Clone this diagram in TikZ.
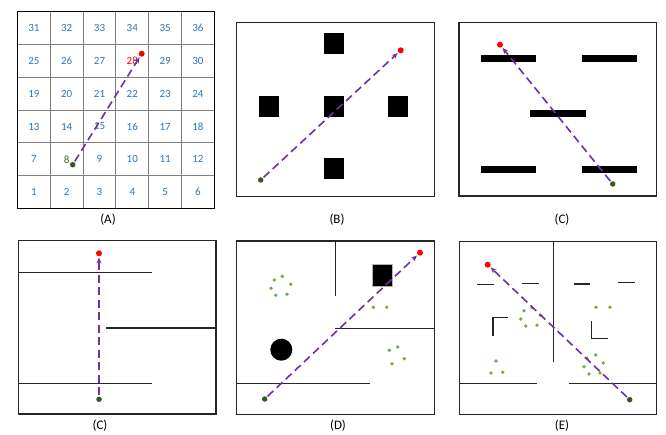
\documentclass[tikz,border=0pt]{standalone}
\usepackage{fontspec}
\setsansfont{Carlito}
\usetikzlibrary{arrows.meta, positioning}
\definecolor{cblue}{HTML}{2E75B6}
\definecolor{cpurple}{HTML}{7030A0}
\definecolor{cred}{HTML}{FF0000}
\definecolor{cdark}{HTML}{375623}
\definecolor{cleaf}{HTML}{70AD47}
\definecolor{cline}{HTML}{262626}
\definecolor{cgrid}{HTML}{808080}
\tikzset{
  every picture/.style={font=\sffamily, line width=1.2pt},
  frame/.style={draw=cline, line width=1.3pt},
  wall/.style={draw=cline, line width=1.2pt},
  block/.style={fill=black, draw=none},
  start/.style={circle, fill=cdark, inner sep=0pt, minimum size=5.5pt},
  goal/.style={circle, fill=cred, inner sep=0pt, minimum size=6pt},
  route/.style={-{Stealth[length=6pt, width=5pt]}, draw=cpurple, line width=1.6pt,
                dash pattern=on 8pt off 4.5pt, shorten >=0.5pt, shorten <=0.5pt},
  seed/.style={circle, fill=cleaf, inner sep=0pt, minimum size=3.8pt},
  caption/.style={font=\sffamily\fontsize{13}{15}\selectfont},
  cellnum/.style={font=\sffamily\fontsize{11}{13}\selectfont, text=cblue},
}

\begin{document}
\begin{tikzpicture}[x=1pt, y=-1pt]
  \useasboundingbox (0,0) rectangle (666,435);
  % (A) numbered grid
  \foreach \i in {1,...,5} {
    \draw[cgrid, line width=1.1pt] ({17.5+32.8*\i},11.7) -- ({17.5+32.8*\i},208.5);
    \draw[cgrid, line width=1.1pt] (17.5,{11.7+32.8*\i}) -- (214.3,{11.7+32.8*\i});
  }
  \draw[frame, draw=black] (17.5,11.7) rectangle (214.3,208.5);
  \foreach \r in {0,...,5} {
    \foreach \c in {0,...,5} {
      \pgfmathtruncatemacro{\n}{\r*6+\c+1}
      \def\ncol{cblue}
      \ifnum\n=28 \def\ncol{cred}\fi
      \ifnum\n=8 \def\ncol{cdark!80!cleaf}\fi
      \node[cellnum, text=\ncol] (n\n) at ({17.5+32.8*(\c+0.5)},{208.5-32.8*(\r+0.5)}) {\n};
    }
  }
  \node[start] (a0) at (72.7,164.7) {};
  \node[goal] (a1) at (141.7,53.7) {};
  \draw[route] (a0) -- (a1);
  \node[caption] (capA) at (108,220) {(A)};
  % (B) square blocks
  \draw[frame] (236.3,22.7) rectangle (434.3,196.7);
  \foreach \x/\y in {323.7/33.3, 259/96, 323.7/96, 387.7/96, 323.7/158.3}
    \fill[block] (\x,\y) rectangle ++(20,21);
  \node[start] (b0) at (260.7,180) {};
  \node[goal] (b1) at (400.7,50.3) {};
  \draw[route] (b0) -- (b1);
  \node[caption] (capB) at (337,220) {(B)};
  % (C) bars
  \draw[frame] (459,22.7) rectangle (656.3,196);
  \foreach \x/\y in {481/55, 582/55, 530.3/110, 481/165.7, 582/165.7}
    \fill[block] (\x,\y) rectangle ++(55.3,7.2);
  \node[start] (c0) at (612.7,184) {};
  \node[goal] (c1) at (500,44.7) {};
  \draw[route] (c0) -- (c1);
  \node[caption] (capC) at (562,220) {(C)};
  % (C) corridors
  \draw[frame] (18.3,240.7) rectangle (216,414);
  \draw[wall] (18.3,272.7) -- (152,272.7);
  \draw[wall] (106,328) -- (216,328);
  \draw[wall] (18.3,383.3) -- (152,383.3);
  \node[start] (d0) at (99,399.3) {};
  \node[goal] (d1) at (99,253.3) {};
  \draw[route] (d0) -- (d1);
  \node[caption] (capC2) at (100,426) {(C)};
  % (D) rooms with obstacles
  \draw[frame] (236.3,241) rectangle (434.3,414.3);
  \draw[wall] (335.3,241) -- (335.3,295.7);
  \draw[wall] (335.3,328.7) -- (434.3,328.7);
  \draw[wall] (236.3,383.7) -- (369.7,383.7);
  \filldraw[fill=black, draw=cgrid!60, line width=0.6pt] (372,264.7) rectangle (392.3,286);
  \fill[black] (281.3,349.7) circle (11);
  \foreach \x/\y in {274.3/280, 282.3/276.3, 290.7/284.3, 271/288.3, 275.7/295.3, 287/294.3,
                     373.3/307.3, 386.7/307.3,
                     389.3/350.3, 397.7/347, 404.3/358.7, 392/363.7}
    \node[seed] at (\x,\y) {};
  \node[start] (e0) at (264.7,399) {};
  \node[goal] (e1) at (420,252.7) {};
  \draw[route] (e0) -- (e1);
  \node[caption] (capD) at (338,426) {(D)};
  % (E) split rooms
  \draw[frame] (459.7,241.3) rectangle (656.7,414.3);
  \draw[wall] (553.7,241.3) -- (553.7,361.7);
  \draw[wall] (459.7,383.7) -- (536.7,383.7);
  \draw[wall] (569,383.7) -- (656.7,383.7);
  \foreach \x/\y in {477.3/284.7, 522/283.3, 573.7/284, 618.3/282.7}
    \draw[wall] (\x,\y) -- ++(16.7,0);
  \draw[wall] (508.3,317.3) -- (493,317.3) -- (493,335.7);
  \draw[wall] (591.7,321) -- (591.7,338.3) -- (608,338.3);
  \foreach \x/\y in {524/310.7, 532/307.7, 540.3/315.3, 520.7/319, 525.7/326, 537/325.3,
                     596/307.3, 610/307.3,
                     496/361, 491/373, 502.7/372.3,
                     587/358.3, 595.7/355, 603.3/363, 584/366.7, 589/374, 600/373}
    \node[seed] at (\x,\y) {};
  \node[start] (f0) at (629.7,399.7) {};
  \node[goal] (f1) at (487.7,264.7) {};
  \draw[route] (f0) -- (f1);
  \node[caption] (capE) at (562,426) {(E)};
\end{tikzpicture}
\end{document}
